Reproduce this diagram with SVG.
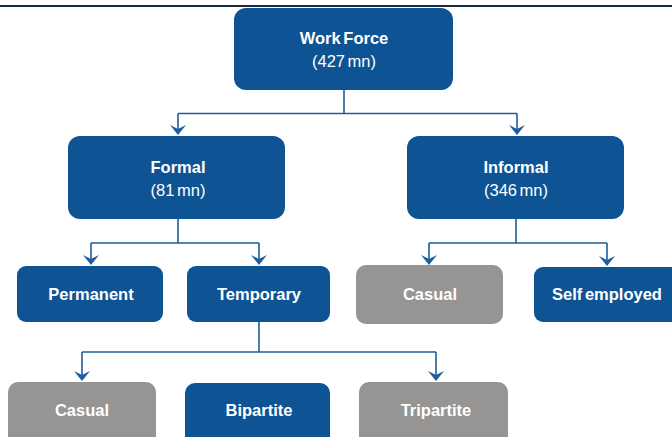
<svg xmlns="http://www.w3.org/2000/svg" width="672" height="437" viewBox="0 0 672 437">
<style>
.b{fill:#0e5394}
.g{fill:#969594}
.t{font-family:"Liberation Sans",Arial,sans-serif;font-size:16.5px;font-weight:bold;fill:#ffffff;text-anchor:middle;word-spacing:-2px}
.s{font-family:"Liberation Sans",Arial,sans-serif;font-size:16.5px;fill:#ffffff;text-anchor:middle;word-spacing:-2px}
.c{fill:none;stroke:#1f5e9c;stroke-width:1.6}
.a{fill:#1f5e9c}
</style>
<defs>
<path id="ah" class="a" d="M0,0 L-8,-10 L0,-6 L8,-10 Z"/>
</defs>
<rect x="0" y="5" width="672" height="2" fill="#1a2945"/>
<g id="connectors">
<path class="c" d="M344,90 V113.5 M178,113.5 H517 M178,113.5 V130 M517,113.5 V130"/>
<path class="c" d="M178,219 V243 M91,243 H259 M91,243 V259 M259,243 V259"/>
<path class="c" d="M516,219 V243 M429,243 H607 M429,243 V259 M607,243 V260"/>
<path class="c" d="M259,322 V352 M82,352 H436 M82,352 V375 M436,352 V375"/>
<use href="#ah" x="178" y="135"/>
<use href="#ah" x="517" y="135"/>
<use href="#ah" x="91" y="265"/>
<use href="#ah" x="259" y="265"/>
<use href="#ah" x="429" y="265"/>
<use href="#ah" x="607" y="266"/>
<use href="#ah" x="82" y="381"/>
<use href="#ah" x="436" y="381"/>
</g>
<g id="workforce"><rect class="b" x="234" y="8" width="219" height="82" rx="12"/><text class="t" x="344" y="44">Work Force</text><text class="s" x="344" y="67">(427 mn)</text></g>
<g id="formal"><rect class="b" x="68" y="136" width="217" height="83" rx="12"/><text class="t" x="178" y="173">Formal</text><text class="s" x="178" y="196">(81 mn)</text></g>
<g id="informal"><rect class="b" x="407" y="136" width="217" height="83" rx="12"/><text class="t" x="516" y="173">Informal</text><text class="s" x="516" y="196">(346 mn)</text></g>
<g id="permanent"><rect class="b" x="17" y="266" width="146" height="56" rx="9"/><text class="t" x="91" y="300">Permanent</text></g>
<g id="temporary"><rect class="b" x="187" y="266" width="143" height="56" rx="9"/><text class="t" x="259" y="300">Temporary</text></g>
<g id="casual-informal"><rect class="g" x="356" y="265" width="147" height="59" rx="10"/><text class="t" x="430" y="300">Casual</text></g>
<g id="selfemployed"><rect class="b" x="534" y="267" width="146" height="55" rx="9"/><text class="t" x="607" y="300">Self employed</text></g>
<g id="casual-temp"><rect class="g" x="8" y="382" width="148" height="70" rx="10"/><text class="t" x="82" y="416">Casual</text></g>
<g id="bipartite"><rect class="b" x="185" y="383" width="145" height="70" rx="10"/><text class="t" x="259" y="416">Bipartite</text></g>
<g id="tripartite"><rect class="g" x="359" y="382" width="149" height="70" rx="10"/><text class="t" x="436" y="416">Tripartite</text></g>
</svg>
